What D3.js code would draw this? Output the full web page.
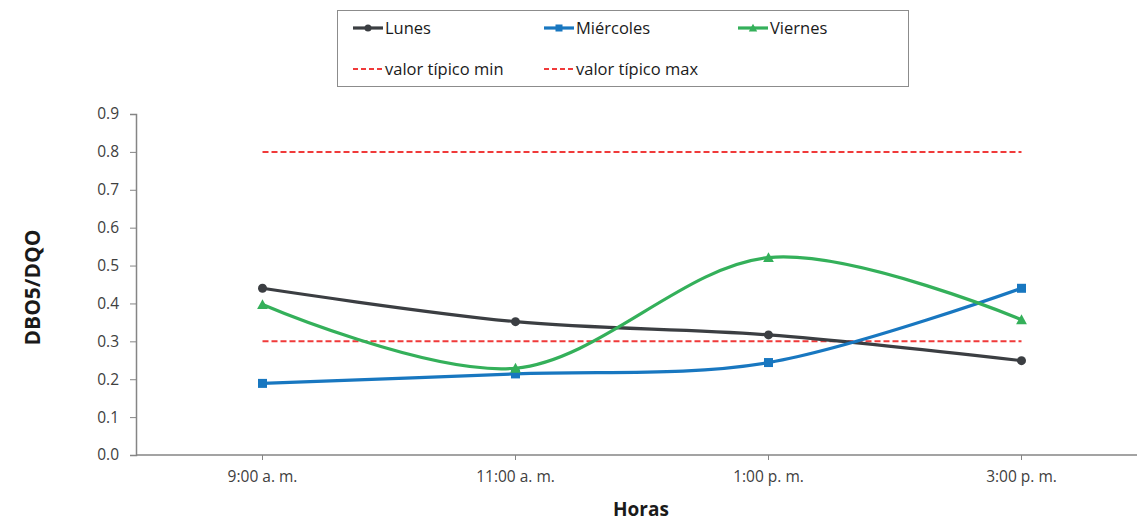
<!DOCTYPE html>
<meta charset="utf-8">
<svg width="1137" height="521"></svg>
<script src="https://cdn.jsdelivr.net/npm/d3@7"></script>
<style>
  body { margin: 0; background: #fff; }
  * { font-family: 'Open Sans', sans-serif; }
</style>
<script>
var horas = ["9:00 a. m.", "11:00 a. m.", "1:00 p. m.", "3:00 p. m."];
var lunes = [0.44, 0.352, 0.317, 0.249];
var miercoles = [0.189, 0.214, 0.244, 0.44];
var viernes = [0.397, 0.229, 0.521, 0.357];
var valorMin = 0.3;
var valorMax = 0.8;
var yTicks = [0, 0.1, 0.2, 0.3, 0.4, 0.5, 0.6, 0.7, 0.8, 0.9];

var svg = d3.select("svg"),
    margin = {top: 114, left: 136, bottom: 66},
    height = 521 - margin.top - margin.bottom;

var x = d3.scaleBand()
    .domain(horas)
    .range([margin.left, margin.left + 4 * 253]);

var y = d3.scaleLinear()
    .domain([0, 0.9])
    .range([margin.top + height, margin.top]);

function cx(d, i) { return x(horas[i]) + x.bandwidth() / 2; }

var series = [
  {name: "Lunes", values: lunes, color: "#3b3e42", marker: "circle"},
  {name: "Miércoles", values: miercoles, color: "#1877c0", marker: "square"},
  {name: "Viernes", values: viernes, color: "#34b05a", marker: "triangle"}
];
var red = "#f03a3a";

// axes
var yAxis = svg.append("g")
    .attr("transform", "translate(" + margin.left + ",0)")
    .call(d3.axisLeft(y).tickValues(yTicks).tickFormat(d3.format(".1f")).tickSize(6).tickPadding(11));
var xAxis = svg.append("g")
    .attr("transform", "translate(0," + y(0) + ")")
    .call(d3.axisBottom(x).tickSize(5).tickPadding(11));
xAxis.select(".domain").attr("d", "M" + margin.left + ",0H1137");

[yAxis, xAxis].forEach(function(a) {
  a.select(".domain").attr("stroke", "#858585").attr("stroke-width", 1.5);
  a.selectAll(".tick line").attr("stroke", "#858585");
  a.selectAll("text").attr("fill", "#404040").style("font-size", "15.5px");
});

svg.append("text")
    .attr("transform", "translate(40," + (margin.top + height / 2 + 3) + ") rotate(-90)")
    .attr("text-anchor", "middle")
    .style("font-size", "21px").style("font-weight", "bold").attr("fill", "#1a1a1a")
    .text("DBO5/DQO");

svg.append("text")
    .attr("x", 641).attr("y", 516)
    .attr("text-anchor", "middle")
    .style("font-size", "19px").style("font-weight", "bold").attr("fill", "#1a1a1a")
    .text("Horas");

// reference lines
[valorMin, valorMax].forEach(function(v) {
  svg.append("line")
      .attr("x1", cx(null, 0)).attr("x2", cx(null, 3))
      .attr("y1", y(v)).attr("y2", y(v))
      .attr("stroke", red).attr("stroke-width", 2)
      .attr("stroke-dasharray", "6,3");
});

var line = d3.line()
    .x(cx)
    .y(function(d) { return y(d); })
    .curve(d3.curveCardinal.tension(0));

function marker(g, type, color, px, py, s) {
  if (type === "circle") {
    g.append("circle").attr("cx", px).attr("cy", py).attr("r", s).attr("fill", color);
  } else if (type === "square") {
    g.append("rect").attr("x", px - s).attr("y", py - s).attr("width", 2 * s).attr("height", 2 * s).attr("fill", color);
  } else {
    g.append("path").attr("d", "M" + px + "," + (py - s * 1.2) + "L" + (px + s * 1.2) + "," + (py + s) + "L" + (px - s * 1.2) + "," + (py + s) + "Z").attr("fill", color);
  }
}

series.forEach(function(s) {
  svg.append("path")
      .datum(s.values)
      .attr("fill", "none")
      .attr("stroke", s.color)
      .attr("stroke-width", 3.2)
      .attr("d", line);
  var g = svg.append("g");
  s.values.forEach(function(v, i) {
    marker(g, s.marker, s.color, cx(v, i), y(v), 4.5);
  });
});

// legend
var lg = svg.append("g");
lg.append("rect")
    .attr("x", 337.5).attr("y", 10.5).attr("width", 571).attr("height", 76)
    .attr("fill", "#fff").attr("stroke", "#8c8c8c");

var legendItems = [
  {name: "Lunes", color: series[0].color, marker: "circle", x: 353, y: 28},
  {name: "Miércoles", color: series[1].color, marker: "square", x: 544, y: 28},
  {name: "Viernes", color: series[2].color, marker: "triangle", x: 738, y: 28},
  {name: "valor típico min", color: red, dash: true, x: 353, y: 69},
  {name: "valor típico max", color: red, dash: true, x: 544, y: 69}
];

legendItems.forEach(function(d) {
  lg.append("line")
      .attr("x1", d.x).attr("x2", d.x + 30)
      .attr("y1", d.y).attr("y2", d.y)
      .attr("stroke", d.color)
      .attr("stroke-width", d.dash ? 2 : 3.2)
      .attr("stroke-dasharray", d.dash ? "5,3" : null);
  if (d.marker) marker(lg, d.marker, d.color, d.x + 15, d.y, 3.5);
  lg.append("text")
      .attr("x", d.x + 32).attr("y", d.y)
      .attr("dy", "0.35em")
      .style("font-size", "16.5px").attr("fill", "#1a1a1a")
      .text(d.name);
});
</script>
